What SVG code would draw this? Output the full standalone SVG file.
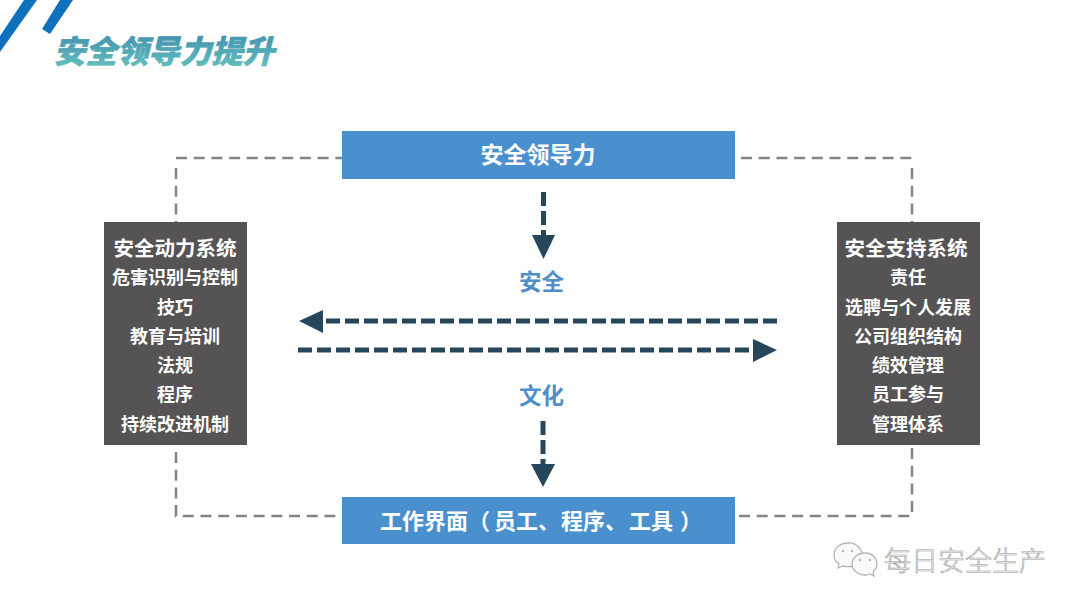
<svg xmlns="http://www.w3.org/2000/svg" width="1080" height="608" viewBox="0 0 1080 608">
<style>
text{font-family:"Noto Sans CJK SC","Liberation Sans",sans-serif;text-anchor:middle}
.bl{fill:#4a90cf}.gr{fill:#555354}
.h{fill:#fff;font-size:23px;font-weight:700}
.s{fill:#fff;font-size:22px;font-weight:700;text-anchor:start}
.t1{fill:#fff;font-size:20.500px;font-weight:700}
.t2{fill:#fff;font-size:18px;font-weight:700}
.lab{fill:#4e8fc8;font-size:22.500px;font-weight:700}
.d{fill:none;stroke:#85838a;stroke-width:2.500;stroke-dasharray:11 6.700}
.a{fill:none;stroke:#26465c;stroke-width:5;stroke-dasharray:14 5}
.ah{fill:#26465c}
.b{fill:#fafafa;stroke:#b4b4b4;stroke-width:1.300}
.e{fill:#b4b4b4}
</style>
<defs><linearGradient id="tg" x1="0" y1="0" x2="0" y2="1"><stop offset="0" stop-color="#3e87ad"/><stop offset="1" stop-color="#66c4bd"/></linearGradient></defs>
<rect width="1080" height="608" fill="#fff"/>
<g id="decor"><polygon points="24,0 37,0 0,52 0,36" fill="#0f70bd"/><polygon points="60,0 73,0 50,34 42,29" fill="#0f70bd"/></g>
<text id="title" x="164" y="63" style="font-size:31.500px;font-weight:900;font-style:italic" fill="url(#tg)" stroke="url(#tg)" stroke-width=".6">安全领导力提升</text>
<g id="connectors">
<path class="d" d="M176 158H342"/><path class="d" d="M176 168V222"/>
<path class="d" d="M741 158H912"/><path class="d" d="M912 168V222"/>
<path class="d" d="M176 452V516H342"/><path class="d" d="M912 448V516"/><path class="d" d="M739 516H912"/>
<path class="a" d="M543.500 192V236"/><polygon class="ah" points="532,235 555,235 543.500,259"/>
<path class="a" d="M777 321H322"/><polygon class="ah" points="323,310 323,333 299,321"/>
<path class="a" d="M298 350H754"/><polygon class="ah" points="753,339 753,362 777,350"/>
<path class="a" d="M543 421V465"/><polygon class="ah" points="531,464 555,464 543,487"/>
</g>
<g id="n-top"><rect class="bl" x="342" y="131" width="393" height="48"/><text class="h" x="538" y="163">安全领导力</text></g>
<g id="n-bottom"><rect class="bl" x="342" y="497" width="393" height="47"/><text class="s" y="529"><tspan x="380">工作界面</tspan><tspan x="468">（</tspan><tspan x="494">员工、</tspan><tspan x="561">程序、</tspan><tspan x="629">工具</tspan><tspan x="680">）</tspan></text></g>
<g id="n-left"><rect class="gr" x="104" y="222" width="143" height="223"/>
<text class="t1" x="175" y="256">安全动力系统</text><text class="t2" x="175" y="284">危害识别与控制</text><text class="t2" x="175" y="314">技巧</text><text class="t2" x="175" y="343">教育与培训</text><text class="t2" x="175" y="372">法规</text><text class="t2" x="175" y="401">程序</text><text class="t2" x="175" y="431">持续改进机制</text></g>
<g id="n-right"><rect class="gr" x="837" y="222" width="143" height="223"/>
<text class="t1" x="906" y="256">安全支持系统</text><text class="t2" x="908" y="284">责任</text><text class="t2" x="908" y="314">选聘与个人发展</text><text class="t2" x="908" y="343">公司组织结构</text><text class="t2" x="908" y="372">绩效管理</text><text class="t2" x="908" y="401">员工参与</text><text class="t2" x="908" y="431">管理体系</text></g>
<text id="l-safe" class="lab" x="541.500" y="290">安全</text>
<text id="l-culture" class="lab" x="541.500" y="404">文化</text>
<g id="watermark">
<path class="b" d="M848 543c-8 0-14 5-14 12 0 4 2 7 5 9l-1 4 5-2c2 .5 3 .7 5 .7 8 0 14-6 14-12s-6-12-14-12z"/>
<circle class="e" cx="843" cy="551" r="1.200"/><circle class="e" cx="852" cy="551" r="1.200"/>
<path class="b" d="M865 553c-7 0-13 5-13 11s6 11 13 11c2 0 3 0 5-1l4 2-1-4c2-2 4-5 4-8 0-6-5-11-12-11z"/>
<circle class="e" cx="860" cy="560" r="1.200"/><circle class="e" cx="870" cy="560" r="1.200"/>
</g>
<text id="wm" x="965" y="571" style="font-size:27px;font-weight:300" fill="#f4f4f4" stroke="#9c9c9c" stroke-width=".6">每日安全生产</text>
</svg>
